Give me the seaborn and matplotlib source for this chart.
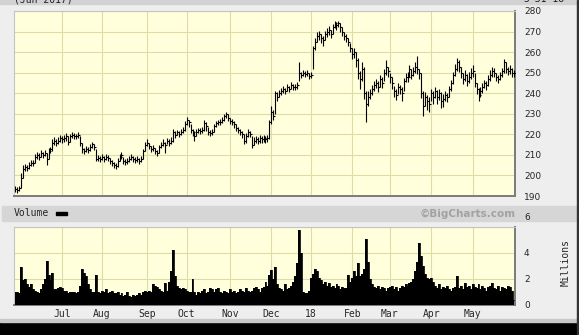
import numpy as np
import pandas as pd
import matplotlib
matplotlib.use("Agg")
import matplotlib.pyplot as plt
from matplotlib.patches import Rectangle
import seaborn as sns

# ---------------- data ----------------
holidays = ["2017-07-04", "2017-09-04", "2017-11-23", "2017-12-25", "2018-01-01",
            "2018-01-15", "2018-02-19", "2018-03-30", "2018-05-28"]
month_labels = ["Jul", "Aug", "Sep", "Oct", "Nov", "Dec", "18", "Feb", "Mar", "Apr", "May"]
price_ticks = [190, 200, 210, 220, 230, 240, 250, 260, 270, 280]
volume_ticks = [0, 2, 4]

close = [193.5,193,194,199,203,204,203.5,205,206,206,
         209,210,209,211,210,211,208,212,213,216,
         217,216,217,218,217.5,218,219,216.5,219,219.5,
         219,219,219.5,216,213,212,213,212.5,214,215.5,
         214,208,208.5,208,209,208,209,208.5,207,206,
         205,204.5,207,209,210,207,206.5,207,208,209,
         208,207.5,208,207,208,212,215,216,214.5,213,
         213.5,212,211,214,215,216,215,217,216,217,
         221,219.5,221,220,221,222,225,227,226,222,
         221,219,221,222,221.5,222,225.5,224,221,220.5,
         221,224,225.5,226,226,227,229,230,228,226.5,
         226,225,223,222,221,220,217,219,221,220,
         215,217,217.5,217,218,217.5,218,217.5,218,226,
         231,229,240,238,240,241,242,241,243,242,
         244,243,243,244,250,249,250,249.5,250,248.5,
         249,262,265,268,269,267,266,269,270,271,
         269,272,274,273,274,272,270,268,267,265,
         262,259,260,256,250,247,252,240,235,238,
         240,242,244,245,243,247,245,250,253,251,
         248,245,241,239,243,242,240,246,248,248,
         252,249,251,253,252,250,240,234,238,236,
         235,240,238,241,238,240,236,237,239,238,
         242,245,249,252,255,253,250,247,249,246,
         248,250,251,245,242,239,241,243,245,244,
         247,249,251,250,248,247,249,251,255,252,
         251,252,250,250]

high = [195,194.5,195,201,205,205.5,205,206.5,207.5,207.5,
        210.5,211.5,211,212.5,211.5,212.5,211,213.5,214,217.5,
        218.5,217.5,218.5,219.5,219,219.5,220.5,219,220,221,
        220.5,220,221,219,216,213.5,214.5,214,215.5,216.5,
        215.5,213,210,209.5,210.5,209.5,210.5,210,208.5,207.5,
        206.5,206,208.5,210.5,211.5,209,208,208.5,209.5,210.5,
        209.5,209,209.5,208.5,209.5,213,216.5,217.5,216,214.5,
        215,213.5,212.5,215,216.5,217.5,216.5,218,217.5,218.5,
        222.5,221.5,222,221.5,222.5,223.5,226.5,228.5,227,225,
        222.5,221.5,222.5,223,223,223.5,227,226,223.5,222,
        222.5,225,226.5,227,227.5,228.5,230,231,230,228,
        227.5,226.5,225,223.5,222.5,221.5,220,220.5,222.5,221.5,
        219,218.5,219,218.5,219.5,219,219.5,219,219.5,227,
        234,232,241,240.5,241.5,242.5,243.5,242.5,244.5,243.5,
        245.5,244.5,244.5,245.5,255,250.5,251.5,251,251.5,250,
        250.5,263,267,270,270.5,269,268,270.5,271.5,272.5,
        271,273.5,275,274.5,275,274,272,270,269,267,
        264.5,262,262,260,257,251,255,253,241,241,
        242,244,246,247,246,249,248,252,256,253,
        250,248,243.5,242,245,244,243,247.5,250,250.5,
        253.5,252,253,255,258,252,250,241,240.5,239,
        238,242,241,243,241.5,242,240.5,239.5,241,240,
        243.5,246.5,250.5,254,257,256,253,250,251.5,249.5,
        250.5,252.5,253.5,250,245,242.5,243,245,246.5,246,
        249,251.5,253,252.5,250,249,250.5,252.5,256.5,255,
        253,253.5,252.5,251.5]

low = [192,191.5,192.5,194,199,202,202,203,204.5,204.5,
       206,208,207.5,209,208.5,209.5,205,208,211,212,
       215,214.5,215.5,216.5,216,216.5,217,215,216.5,218,
       217.5,217.5,218,214.5,211,210.5,211.5,211,212,213.5,
       212.5,207,207,206.5,207.5,206.5,207.5,207,205.5,204.5,
       203.5,203,204,207,208,205.5,205,205.5,206.5,207.5,
       206.5,206,206.5,205.5,206.5,208,212,214.5,213,211.5,
       212,210.5,209.5,211,213.5,214.5,211,215.5,214.5,215.5,
       216.5,218,219.5,218.5,219.5,220.5,221.5,224.5,223.5,220.5,
       219,217,219,220.5,220,220.5,221.5,221.5,219.5,219,
       219.5,221,223.5,224.5,224.5,225.5,226.5,228,226.5,225,
       224.5,223,221.5,220.5,219.5,218,215.5,216,218.5,218.5,
       213.5,215,216,215.5,216,216,216.5,216,216.5,217.5,
       225,227,230,236,238,239,240,239.5,241,240.5,
       242,241.5,241.5,242,246,247.5,248.5,248,248.5,247,
       247.5,252,261,265,266,264.5,263,266,267.5,268.5,
       267,269,271.5,271,272,270,268,266,265,263,
       260,256.5,257,253,247,242,246,237,226,234,
       237,239,241,242.5,240.5,243,242.5,246,249,248,
       245,242,238,236.5,239.5,239.5,236,241,245.5,245.5,
       248,247,248.5,250,249.5,247,237.5,229,234,232,
       231,236,235,237.5,235,236.5,233,233.5,236,235.5,
       238,241,244.5,248.5,251,250.5,247.5,244.5,246,243.5,
       245,247,248,243,239.5,236,238,240,242.5,241.5,
       243.5,246,248,248,246,245,246.5,248,250,250,
       249,249.5,248,248]

volume = [1.0,1.0,0.9,2.9,1.9,2.0,1.6,1.4,1.6,1.2,
          1.1,1.0,0.9,1.2,1.6,2.0,3.4,2.3,1.9,2.5,
          1.2,1.2,1.3,1.4,1.3,1.1,1.1,0.9,1.0,1.0,
          1.0,0.9,1.0,1.5,2.8,2.5,2.2,1.6,1.2,1.0,
          1.0,2.3,1.0,0.9,1.1,1.0,1.2,0.9,1.0,1.1,
          0.9,0.9,1.0,0.8,0.9,0.7,0.8,1.0,0.7,0.6,
          0.8,0.7,0.8,0.9,0.8,1.0,1.1,1.0,1.1,1.0,
          1.6,1.5,1.4,1.2,1.1,1.0,1.7,1.1,1.8,2.6,
          4.2,2.2,1.5,1.3,1.2,1.3,1.2,1.1,1.0,1.0,
          2.0,1.0,0.8,1.0,0.9,1.1,1.2,0.9,1.0,1.3,
          1.2,1.0,1.2,1.3,1.0,0.9,1.1,1.0,0.9,1.2,
          1.0,1.1,0.9,1.0,1.2,1.1,1.0,1.3,1.1,1.0,
          1.1,1.3,1.4,1.2,1.0,1.3,1.4,1.8,1.5,2.3,
          2.7,2.0,2.9,1.6,1.3,1.2,1.1,1.6,1.2,1.3,
          1.5,1.8,2.2,3.2,5.8,4.0,1.0,0.9,0.9,1.1,
          2.1,2.4,2.8,2.6,2.1,1.9,1.6,1.8,1.5,1.7,
          1.4,1.5,1.3,1.6,1.5,1.2,1.4,1.3,1.3,2.3,
          1.8,2.1,2.6,2.2,3.2,2.2,2.4,2.8,5.1,3.3,
          2.0,1.6,1.4,1.3,1.5,1.2,1.4,1.3,1.1,1.3,
          1.4,1.5,1.2,1.4,1.1,1.3,1.5,1.4,1.6,1.5,
          1.7,1.8,2.0,2.6,3.3,4.8,3.8,3.0,2.4,2.1,
          2.0,2.1,1.8,1.5,1.3,1.6,1.2,1.4,1.3,1.5,
          1.2,1.1,1.3,1.4,2.2,1.3,1.5,1.2,1.7,1.4,
          1.5,1.2,1.6,1.4,1.3,1.6,1.2,1.5,1.3,1.1,
          1.4,1.5,1.7,1.3,1.2,1.5,1.1,1.4,1.3,1.2,
          1.5,1.4,1.1,0.4]

# ---------------- build frame ----------------
days = pd.bdate_range("2017-05-30", "2018-05-31")
days = days[~days.isin(pd.to_datetime(holidays))]
n = min(len(days), len(close))
df = pd.DataFrame({"date": days[:n], "close": close[:n], "high": high[:n],
                   "low": low[:n], "volume": volume[:n]})
df["idx"] = np.arange(n)
month_start = df.groupby(df["date"].dt.to_period("M"))["idx"].min().values
month_pos = [p for p in month_start if p > 5][:len(month_labels)]

# ---------------- style ----------------
sns.set_style("white")
plt.rcParams["font.family"] = ["DejaVu Sans"]
W, H = 579, 335
fig = plt.figure(figsize=(W / 100, H / 100), dpi=100, facecolor="#eeeeee")

def fx(px):
    return px / W

def fy(py):
    return 1 - py / H

BG = "#ffffdc"
GRID = "#dcdca6"
mono = "DejaVu Sans Mono"

# header band and frame decorations
fig.patches.append(Rectangle((0, fy(4)), 1, 4 / H, transform=fig.transFigure,
                             color="#d2d2d2", zorder=0))
fig.patches.append(Rectangle((fx(2), fy(221)), fx(575), 15 / H, transform=fig.transFigure,
                             color="#d6d6d6", zorder=0))
fig.patches.append(Rectangle((0, 0), 1, 13 / H, transform=fig.transFigure,
                             color="#000000", zorder=0))
fig.patches.append(Rectangle((0, 13 / H), 1, 3 / H, transform=fig.transFigure,
                             color="#c8c8c8", zorder=0))
fig.patches.append(Rectangle((fx(577), 0), fx(2), 1, transform=fig.transFigure,
                             color="#333333", zorder=0))
fig.text(fx(14), fy(2), "(Jun 2017)", family=mono, fontsize=7, va="baseline",
         ha="left", color="#222222")
fig.text(fx(523), fy(2), "5-31-18", family=mono, fontsize=7, va="baseline",
         ha="left", color="#222222")

def style_panel(ax):
    ax.set_facecolor(BG)
    for s in ["top", "left"]:
        ax.spines[s].set_color("#c4c4c4")
        ax.spines[s].set_linewidth(0.8)
    for s in ["bottom", "right"]:
        ax.spines[s].set_color("#7a7a7a")
        ax.spines[s].set_linewidth(1.4)
    ax.set_xlim(-0.5, n - 0.5)
    ax.set_xticks(month_pos)
    ax.tick_params(length=0)
    ax.yaxis.tick_right()
    ax.grid(True, color=GRID, linewidth=0.8)
    ax.set_axisbelow(True)

# ---------------- price panel ----------------
axp = fig.add_axes([fx(14), fy(196), fx(501), 185 / H])
style_panel(axp)
axp.set_ylim(190, 280)
axp.set_yticks(price_ticks)
axp.set_yticklabels([str(t) for t in price_ticks], fontsize=6.5)
axp.tick_params(axis="y", pad=6.5, labelright=True, labelleft=False)
axp.set_xticklabels([])
axp.vlines(df["idx"], df["low"], df["high"], colors="black", linewidth=0.8, zorder=3)
axp.plot(df["idx"], df["close"], linestyle="none", marker=1, markersize=1.6,
         markeredgewidth=0.8, color="black", zorder=3)
axp.set_xlabel("")
axp.set_ylabel("")

# ---------------- volume panel ----------------
axv = fig.add_axes([fx(14), fy(305), fx(501), 78 / H])
style_panel(axv)
axv.set_ylim(0, 6)
axv.set_yticks([0, 2, 4, 6])
axv.set_yticklabels(["0", "2", "4", ""], fontsize=6.5)
axv.tick_params(axis="y", pad=6.5)
axv.fill_between(df["idx"], 0, df["volume"], step="mid", color="black",
                 linewidth=0, zorder=3)
sns.lineplot(data=df, x="idx", y="volume", ax=axv, color="black", linewidth=0.6,
             drawstyle="steps-mid", zorder=3)
axv.set_xticklabels(month_labels, family=mono, fontsize=7)
axv.tick_params(axis="x", pad=3)
axv.set_xlabel("")
axv.set_ylabel("")
axv.set_xlim(-0.5, n - 0.5)
axv.set_ylim(0, 6)

fig.text(fx(524), fy(218), "6", fontsize=6.5, ha="left", va="center")
fig.text(fx(566), fy(263), "Millions", family=mono, fontsize=7, rotation=90,
         ha="center", va="center")
fig.text(fx(14), fy(213.5), "Volume", family=mono, fontsize=7, ha="left",
         va="center")
fig.patches.append(Rectangle((fx(56), fy(215)), fx(11), 3 / H,
                             transform=fig.transFigure, color="black", zorder=2))
fig.text(fx(516), fy(213.5), "\u00a9BigCharts.com", fontsize=7.5, weight="bold",
         color="#a2a2a2", ha="right", va="center")

fig.savefig("out.png", dpi=100, facecolor=fig.get_facecolor())
